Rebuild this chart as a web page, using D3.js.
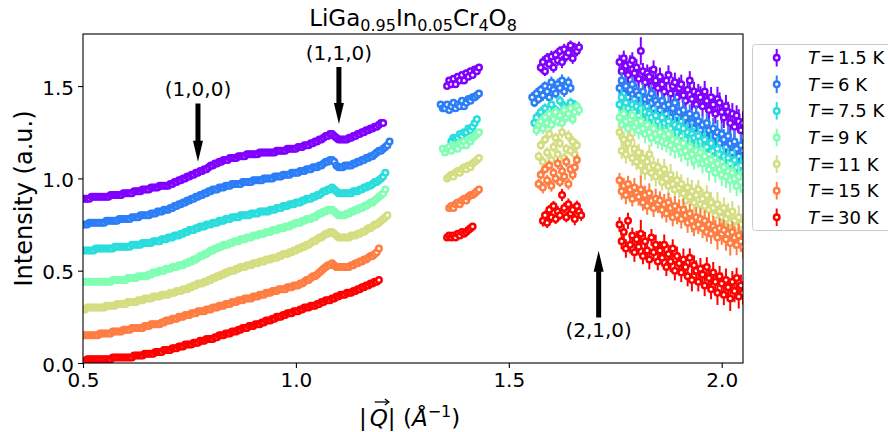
<!DOCTYPE html>
<html><head><meta charset="utf-8">
<script src="https://cdn.jsdelivr.net/npm/d3@7"></script>
<style>body{margin:0;background:#fff}svg text{font-family:"DejaVu Sans",sans-serif;fill:#000}</style>
</head><body><svg id="c" width="888" height="432"></svg>
<script>
// ---------- DATA ----------
const temps = ["1.5","6","7.5","9","11","15","30"];
const colors = ["#8000ff","#2c7ef7","#2adddd","#80ffb4","#d4dd80","#ff7d41","#ff0000"];
const xTicks = [0.5,1.0,1.5,2.0];
const yTicks = [0.0,0.5,1.0,1.5];

// region 1 (low Q)
const qLow = [0.500,0.505,0.510,0.515,0.520,0.525,0.530,0.535,0.540,0.545,
0.550,0.555,0.560,0.565,0.570,0.575,0.580,0.585,0.590,0.595,
0.600,0.605,0.610,0.615,0.620,0.625,0.630,0.635,0.640,0.645,
0.650,0.655,0.660,0.665,0.670,0.675,0.680,0.685,0.690,0.695,
0.700,0.705,0.710,0.715,0.720,0.725,0.730,0.735,0.740,0.745,
0.750,0.755,0.760,0.765,0.770,0.775,0.780,0.785,0.790,0.795,
0.800,0.805,0.810,0.815,0.820,0.825,0.830,0.835,0.840,0.845,
0.850,0.855,0.860,0.865,0.870,0.875,0.880,0.885,0.890,0.895,
0.900,0.905,0.910,0.915,0.920,0.925,0.930,0.935,0.940,0.945,
0.950,0.955,0.960,0.965,0.970,0.975,0.980,0.985,0.990,0.995,
1.000,1.005,1.010,1.015,1.020,1.025,1.030,1.035,1.040,1.045,
1.050,1.055,1.060,1.065,1.070,1.075,1.080,1.085,1.090,1.095,
1.100,1.105,1.110,1.115,1.120,1.125,1.130,1.135,1.140,1.145,
1.150,1.155,1.160,1.165,1.170,1.175,1.180,1.185,1.190,1.195,
1.200,1.205,1.210,1.215,1.220];
const low_T1p5 = [0.89,0.89,0.89,0.89,0.90,0.90,0.90,0.90,0.90,0.90,0.90,
0.90,0.90,0.91,0.91,0.91,0.91,0.91,0.91,0.92,0.92,
0.92,0.92,0.92,0.93,0.93,0.93,0.93,0.94,0.94,0.94,
0.94,0.95,0.95,0.95,0.95,0.96,0.96,0.96,0.96,0.96,
0.97,0.97,0.98,0.98,0.99,0.99,1.00,1.00,1.01,1.01,
1.02,1.02,1.03,1.03,1.04,1.04,1.05,1.05,1.06,1.07,
1.07,1.08,1.08,1.09,1.09,1.10,1.10,1.10,1.11,1.11,
1.11,1.11,1.12,1.12,1.12,1.12,1.13,1.13,1.13,1.13,
1.13,1.13,1.14,1.14,1.14,1.14,1.14,1.14,1.14,1.14,
1.15,1.15,1.15,1.15,1.15,1.16,1.16,1.16,1.16,1.16,
1.17,1.17,1.17,1.18,1.18,1.18,1.19,1.19,1.20,1.20,
1.21,1.21,1.22,1.23,1.23,1.24,1.24,1.23,1.22,1.21,
1.21,1.21,1.21,1.21,1.22,1.22,1.23,1.23,
1.24,1.24,1.25,1.25,1.26,1.26,1.27,1.27,1.28,1.28,1.29,1.30,1.30];
const low_T6 = [0.75,0.75,0.75,0.76,0.76,0.76,0.76,0.76,0.76,0.76,0.76,
0.77,0.77,0.77,0.77,0.77,0.77,0.78,0.78,0.78,0.78,
0.78,0.78,0.79,0.79,0.79,0.79,0.80,0.80,0.80,0.80,
0.80,0.81,0.81,0.81,0.82,0.82,0.82,0.83,0.83,0.83,
0.84,0.84,0.85,0.85,0.86,0.86,0.87,0.87,0.88,0.88,
0.89,0.89,0.90,0.90,0.91,0.91,0.92,0.92,0.93,0.93,
0.94,0.94,0.94,0.95,0.95,0.95,0.96,0.96,0.96,0.97,
0.97,0.97,0.97,0.97,0.98,0.98,0.98,0.98,0.98,0.99,
0.99,0.99,0.99,0.99,1.00,1.00,1.00,1.00,1.00,1.01,
1.01,1.01,1.01,1.02,1.02,1.02,1.02,1.03,1.03,1.03,
1.03,1.04,1.04,1.04,1.05,1.05,1.05,1.06,1.06,1.06,
1.07,1.07,1.08,1.09,1.09,1.10,1.10,1.09,1.07,1.06,
1.06,1.06,1.07,1.07,1.07,1.07,1.08,1.08,
1.09,1.09,1.10,1.10,1.11,1.11,1.12,1.12,1.13,1.14,1.15,1.15,1.16,1.17,1.18,1.20];
const low_T7p5 = [0.61,0.61,0.61,0.61,0.61,0.61,0.62,0.62,0.62,0.62,0.62,
0.62,0.62,0.62,0.62,0.63,0.63,0.63,0.63,0.63,0.63,
0.63,0.63,0.64,0.64,0.64,0.64,0.64,0.65,0.65,0.65,
0.65,0.65,0.66,0.66,0.66,0.66,0.67,0.67,0.67,0.68,
0.68,0.68,0.69,0.69,0.69,0.70,0.70,0.71,0.71,0.72,
0.72,0.72,0.73,0.73,0.74,0.74,0.74,0.75,0.75,0.75,
0.76,0.76,0.76,0.77,0.77,0.77,0.78,0.78,0.78,0.79,
0.79,0.79,0.79,0.80,0.80,0.80,0.80,0.80,0.81,0.81,
0.81,0.81,0.82,0.82,0.82,0.82,0.82,0.83,0.83,0.83,
0.84,0.84,0.84,0.85,0.85,0.85,0.86,0.86,0.86,0.87,
0.87,0.87,0.88,0.88,0.89,0.89,0.89,0.90,0.90,0.91,
0.91,0.92,0.93,0.93,0.94,0.94,0.95,0.94,0.93,0.92,
0.92,0.92,0.92,0.92,0.92,0.92,0.93,0.93,
0.93,0.94,0.94,0.95,0.95,0.96,0.96,0.97,0.98,0.98,0.99,1.00,1.01,1.03];
const low_T9 = [0.44,0.44,0.44,0.44,0.44,0.44,0.44,0.44,0.44,0.44,0.44,
0.44,0.44,0.44,0.45,0.45,0.45,0.45,0.45,0.45,0.45,
0.46,0.46,0.46,0.46,0.46,0.47,0.47,0.47,0.47,0.47,
0.48,0.48,0.49,0.49,0.49,0.50,0.50,0.50,0.51,0.51,
0.51,0.52,0.52,0.52,0.53,0.53,0.53,0.54,0.54,0.55,
0.55,0.56,0.56,0.57,0.58,0.58,0.59,0.59,0.60,0.61,
0.61,0.62,0.62,0.63,0.63,0.64,0.64,0.64,0.65,0.65,
0.66,0.66,0.66,0.67,0.67,0.67,0.68,0.68,0.68,0.69,
0.69,0.69,0.70,0.70,0.70,0.71,0.71,0.71,0.72,0.72,
0.72,0.73,0.73,0.73,0.74,0.74,0.74,0.75,0.75,0.76,
0.76,0.76,0.77,0.77,0.78,0.78,0.78,0.79,0.79,0.80,
0.81,0.81,0.82,0.82,0.83,0.83,0.83,0.82,0.81,0.80,
0.80,0.80,0.80,0.81,0.81,0.82,0.82,0.83,
0.83,0.84,0.84,0.85,0.85,0.86,0.87,0.87,0.88,0.89,0.90,0.91,0.92,0.94];
const low_T11 = [0.29,0.29,0.30,0.30,0.30,0.30,0.30,0.30,0.30,0.30,0.30,
0.31,0.31,0.31,0.31,0.31,0.32,0.32,0.32,0.32,0.32,
0.33,0.33,0.33,0.33,0.33,0.34,0.34,0.34,0.35,0.35,
0.35,0.35,0.36,0.36,0.36,0.36,0.37,0.37,0.37,0.37,
0.38,0.38,0.38,0.39,0.39,0.39,0.40,0.40,0.40,0.41,
0.41,0.42,0.42,0.43,0.43,0.43,0.44,0.44,0.45,0.45,
0.46,0.46,0.47,0.47,0.48,0.48,0.49,0.49,0.50,0.50,
0.50,0.51,0.51,0.52,0.52,0.52,0.53,0.53,0.53,0.54,
0.54,0.54,0.55,0.55,0.55,0.56,0.56,0.56,0.57,0.57,
0.57,0.58,0.58,0.59,0.59,0.59,0.60,0.60,0.61,0.61,
0.62,0.62,0.63,0.63,0.64,0.64,0.65,0.66,0.66,0.67,
0.68,0.68,0.69,0.70,0.70,0.71,0.71,0.70,0.69,0.68,
0.68,0.68,0.68,0.68,0.68,0.69,0.69,0.69,
0.70,0.70,0.71,0.71,0.72,0.73,0.73,0.74,0.75,0.75,0.76,0.77,0.78,0.79,0.80];
const low_T15 = [0.15,0.15,0.15,0.15,0.15,0.15,0.15,0.15,0.16,0.16,0.16,
0.16,0.16,0.16,0.17,0.17,0.17,0.17,0.17,0.18,0.18,
0.18,0.18,0.19,0.19,0.19,0.19,0.19,0.19,0.20,0.20,
0.20,0.21,0.21,0.21,0.21,0.21,0.22,0.22,0.23,0.23,
0.23,0.24,0.24,0.24,0.25,0.25,0.25,0.26,0.26,0.26,
0.27,0.27,0.27,0.28,0.28,0.28,0.28,0.29,0.29,0.29,
0.30,0.30,0.30,0.31,0.31,0.31,0.32,0.32,0.32,0.33,
0.33,0.33,0.34,0.34,0.34,0.35,0.35,0.35,0.35,0.36,
0.36,0.36,0.37,0.37,0.37,0.38,0.38,0.38,0.39,0.39,
0.39,0.40,0.40,0.40,0.40,0.41,0.41,0.41,0.42,0.42,
0.42,0.43,0.43,0.44,0.45,0.45,0.46,0.47,0.47,0.48,
0.49,0.50,0.51,0.52,0.53,0.53,0.54,0.53,0.52,0.52,
0.52,0.52,0.52,0.52,0.52,0.53,0.53,0.54,
0.54,0.55,0.55,0.56,0.56,0.57,0.58,0.58,0.59,0.60,0.62];
const low_T30 = [0.01,0.01,0.02,0.02,0.02,0.02,0.02,0.02,0.02,0.02,0.02,
0.02,0.02,0.02,0.03,0.03,0.03,0.03,0.03,0.03,0.03,
0.03,0.03,0.03,0.04,0.04,0.04,0.04,0.04,0.05,0.05,
0.05,0.05,0.05,0.06,0.06,0.06,0.06,0.07,0.07,0.07,
0.07,0.08,0.08,0.08,0.09,0.09,0.09,0.10,0.10,0.10,
0.10,0.11,0.11,0.11,0.12,0.12,0.12,0.13,0.13,0.13,
0.13,0.14,0.14,0.15,0.15,0.15,0.16,0.16,0.16,0.17,
0.17,0.17,0.18,0.18,0.19,0.19,0.19,0.20,0.20,0.20,
0.21,0.21,0.21,0.22,0.22,0.23,0.23,0.23,0.24,0.24,
0.25,0.25,0.25,0.26,0.26,0.27,0.27,0.27,0.28,0.28,
0.28,0.29,0.29,0.30,0.30,0.30,0.31,0.31,0.31,0.32,
0.32,0.33,0.33,0.34,0.34,0.34,0.35,0.35,0.36,0.36,
0.37,0.37,0.37,0.38,0.38,0.38,0.39,0.39,0.40,0.40,
0.41,0.41,0.42,0.42,0.43,0.43,0.44,0.44,0.45];

// region 2
const qMid1 = [1.340,1.345,1.350,1.355,1.360,1.365,1.370,1.375,1.380,1.385,1.390,1.395,1.400,1.405,1.410,1.415,1.420,1.425,1.430];
const errMid1 = [0.010,0.012,0.011,0.010,0.012,0.011,0.013,0.012,0.011,0.012,0.013,0.012,0.014,0.013,0.012,0.014,0.013,0.015,0.014];
const mid1_T1p5 = [null,null,null,1.50,1.53,1.51,1.54,1.51,1.55,1.53,1.56,1.53,1.57,1.55,1.58,1.56,1.59,1.58,1.60];
const mid1_T6 = [1.40,1.38,1.38,1.40,1.37,1.39,1.41,1.38,1.40,1.39,1.42,1.39,1.41,1.43,1.42,1.44,1.44,1.45,1.46];
const mid1_T7p5 = [null,null,null,null,null,1.20,1.22,1.21,1.22,1.24,1.23,1.25,1.25,1.27,1.26,1.28,1.30,1.32,null];
const mid1_T9 = [null,1.16,1.14,1.16,1.17,1.15,1.18,1.17,1.16,1.19,1.18,1.20,1.18,1.21,1.20,1.22,1.23,1.24,1.25];
const mid1_T11 = [null,null,null,1.00,1.01,1.02,1.01,1.03,1.04,1.03,1.05,1.06,1.05,1.07,1.06,1.08,1.09,1.10,1.11];
const mid1_T15 = [null,null,null,null,0.84,0.85,0.84,0.86,0.87,0.86,0.88,0.89,0.88,0.90,0.91,0.91,0.92,0.93,0.94];
const mid1_T30 = [null,null,null,0.68,0.69,0.68,0.69,0.68,0.70,0.69,0.71,0.70,0.71,0.72,0.73,0.74,null,null,null];

// region 3
const qMid2 = [1.550,1.555,1.560,1.565,1.570,1.575,1.580,1.585,1.590,1.595,1.600,1.605,1.610,1.615,1.620,1.625,1.630,1.635,1.640,1.645,1.650,1.655,1.660,1.665,1.670];
const errMid2 = [0.025,0.028,0.024,0.030,0.026,0.027,0.031,0.025,0.029,0.026,0.032,0.028,0.027,0.030,0.026,0.033,0.029,0.028,0.031,0.027,0.030,0.034,0.029,0.031,0.030];
const mid2_T1p5 = [null,null,null,null,null,1.60,1.63,1.58,1.65,1.62,1.66,1.60,1.67,1.64,1.69,1.63,1.70,1.66,1.68,1.72,1.65,1.70,1.69,1.71,null];
const mid2_T6 = [null,1.44,1.41,1.46,1.43,1.48,1.45,1.50,1.47,1.44,1.52,1.48,1.46,1.51,1.49,1.53,1.47,1.50,1.52,1.49,null,null,null,null,null];
const mid2_T7p5 = [null,null,1.30,1.33,1.29,1.36,1.32,1.38,1.34,1.31,1.40,1.35,1.37,1.33,1.42,1.36,1.39,1.34,1.38,1.41,1.36,1.39,null,null,null];
const mid2_T9 = [null,null,null,1.26,1.29,1.31,1.27,1.33,1.30,1.35,1.29,1.32,1.36,1.31,1.34,1.30,1.37,1.33,1.35,1.38,1.32,1.36,1.39,1.37,null];
const mid2_T11 = [null,null,null,null,1.12,1.18,1.09,1.21,1.14,1.24,1.10,1.17,1.22,1.13,1.19,1.25,1.11,1.16,1.23,1.15,1.20,1.13,1.18,null,null];
const mid2_T15 = [null,null,null,null,0.97,1.02,0.95,1.05,0.99,1.07,0.96,1.03,1.00,1.08,0.98,1.04,1.01,1.09,0.97,1.05,1.02,1.06,1.10,null,null];
const mid2_T30 = [null,null,null,null,null,null,0.77,0.80,0.76,0.83,0.79,0.85,0.78,0.82,0.80,0.91,0.84,0.79,0.86,0.81,0.83,0.78,0.85,0.82,0.80];

// region 4 (high Q)
const qHigh = [1.760,1.765,1.770,1.775,1.780,1.785,1.790,1.795,1.800,
1.805,1.810,1.815,1.820,1.825,1.830,1.835,1.840,1.845,1.850,
1.855,1.860,1.865,1.870,1.875,1.880,1.885,1.890,1.895,1.900,
1.905,1.910,1.915,1.920,1.925,1.930,1.935,1.940,1.945,1.950,
1.955,1.960,1.965,1.970,1.975,1.980,1.985,1.990,1.995,2.000,
2.005,2.010,2.015,2.020,2.025,2.030,2.035,2.040,2.045,2.050];
const errHigh = [0.040,0.045,0.042,0.050,0.044,0.047,0.043,0.052,0.046,
0.048,0.075,0.045,0.050,0.047,0.053,0.046,0.049,0.055,0.048,
0.050,0.047,0.056,0.049,0.052,0.058,0.050,0.053,0.049,0.057,
0.052,0.060,0.050,0.055,0.051,0.062,0.053,0.056,0.052,0.059,
0.054,0.058,0.053,0.064,0.055,0.057,0.054,0.066,0.056,0.060,
0.057,0.062,0.055,0.068,0.058,0.061,0.056,0.065,0.059,0.063];
const high_T1p5 = [1.63,1.58,1.65,1.61,1.56,1.62,1.64,1.57,1.60,
1.54,1.69,1.58,1.52,1.57,1.55,1.50,1.59,1.53,1.49,
1.55,1.51,1.47,1.53,1.56,1.46,1.50,1.52,1.44,1.49,
1.51,1.45,1.42,1.48,1.53,1.43,1.47,1.40,1.46,1.44,
1.39,1.47,1.42,1.37,1.44,1.40,1.35,1.43,1.41,1.36,
1.33,1.39,1.36,1.30,1.35,1.28,1.34,1.31,1.26,1.30];
const high_T6 = [1.49,1.53,1.46,1.50,1.44,1.48,1.51,1.43,1.47,
1.45,1.41,1.47,1.43,1.39,1.44,1.46,1.38,1.42,1.40,
1.37,1.42,1.39,1.35,1.40,1.33,1.38,1.41,1.34,1.36,
1.31,1.37,1.33,1.29,1.35,1.30,1.27,1.34,1.31,1.26,
1.29,1.24,1.30,1.26,1.21,1.27,1.23,1.25,1.19,1.24,
1.21,1.17,1.23,1.19,1.14,1.20,1.16,1.12,1.18,1.15];
const high_T7p5 = [1.40,1.44,1.37,1.41,1.38,1.35,1.40,1.36,1.39,
1.34,1.38,1.32,1.36,1.30,1.35,1.33,1.29,1.34,1.31,
1.28,1.33,1.30,1.26,1.31,1.27,1.24,1.29,1.25,1.28,
1.23,1.27,1.21,1.25,1.19,1.24,1.22,1.18,1.23,1.20,
1.16,1.21,1.17,1.13,1.19,1.15,1.11,1.16,1.13,1.09,
1.12,1.07,1.11,1.08,1.04,1.10,1.06,1.02,1.07,1.04];
const high_T9 = [1.33,1.29,1.35,1.31,1.27,1.32,1.34,1.28,1.30,
1.26,1.31,1.27,1.24,1.29,1.25,1.22,1.27,1.24,1.21,
1.25,1.20,1.23,1.19,1.24,1.18,1.21,1.16,1.20,1.17,
1.14,1.19,1.15,1.12,1.17,1.13,1.10,1.15,1.11,1.14,
1.08,1.12,1.09,1.05,1.10,1.07,1.03,1.08,1.05,1.02,
1.06,1.01,1.04,0.99,1.03,1.00,0.96,1.01,0.98,0.95];
const high_T11 = [1.25,1.15,1.21,1.13,1.19,1.22,1.11,1.16,1.09,
1.14,1.07,1.11,1.04,1.09,1.13,1.03,1.07,1.01,1.06,
1.03,0.98,1.05,1.00,0.96,1.02,0.97,0.94,0.99,0.95,
0.97,0.92,0.88,0.95,0.90,0.93,0.87,0.91,0.94,0.86,
0.89,0.85,0.91,0.83,0.87,0.84,0.80,0.86,0.82,0.79,
0.84,0.78,0.81,0.76,0.82,0.77,0.74,0.79,0.75,0.72];
const high_T15 = [0.99,0.93,0.96,0.91,0.97,0.94,0.89,0.95,0.92,
0.90,0.94,0.87,0.91,0.85,0.92,0.88,0.84,0.89,0.86,
0.88,0.83,0.86,0.81,0.87,0.84,0.79,0.85,0.80,0.83,
0.78,0.83,0.80,0.76,0.81,0.77,0.74,0.79,0.75,0.78,
0.73,0.77,0.71,0.75,0.70,0.74,0.72,0.68,0.73,0.70,
0.72,0.67,0.70,0.65,0.71,0.68,0.64,0.69,0.66,0.63];
const high_T30 = [0.75,0.66,0.71,0.62,0.77,0.64,0.69,0.60,0.67,
0.63,0.70,0.58,0.66,0.61,0.56,0.68,0.60,0.64,0.55,
0.61,0.57,0.64,0.52,0.59,0.55,0.62,0.50,0.58,0.54,
0.49,0.56,0.52,0.47,0.57,0.45,0.53,0.50,0.44,0.51,
0.48,0.42,0.52,0.46,0.40,0.49,0.44,0.38,0.47,0.43,
0.37,0.45,0.41,0.35,0.44,0.39,0.46,0.36,0.42,0.38];

// annotations
const annLabels = ["(1,0,0)","(1,1,0)","(2,1,0)"];
const annQ = [0.77,1.101,1.711];
const annTail = [1.406,1.603,0.247];
const annTip = [1.090,1.294,0.608];
const annText = [1.446,1.641,0.140];

// ---------- BUILD ----------
const regions = [
  {q:qLow,  err:null,    vals:[low_T1p5,low_T6,low_T7p5,low_T9,low_T11,low_T15,low_T30]},
  {q:qMid1, err:errMid1, vals:[mid1_T1p5,mid1_T6,mid1_T7p5,mid1_T9,mid1_T11,mid1_T15,mid1_T30]},
  {q:qMid2, err:errMid2, vals:[mid2_T1p5,mid2_T6,mid2_T7p5,mid2_T9,mid2_T11,mid2_T15,mid2_T30]},
  {q:qHigh, err:errHigh, vals:[high_T1p5,high_T6,high_T7p5,high_T9,high_T11,high_T15,high_T30]}
];
const series = temps.map((t,k)=>{
  const pts=[];
  regions.forEach(r=>{
    r.vals[k].forEach((v,i)=>{ if(v!=null) pts.push({q:r.q[i],v:v,e:r.err?r.err[i]:0}); });
  });
  return {t, color:colors[k], pts};
});

const L=83,R=743,T=34,B=363;
const x = d3.scaleLinear().domain([0.5,2.05]).range([L,R]);
const y = d3.scaleLinear().domain([0,1.782]).range([B,T]);
const svg = d3.select("#c");

svg.append("defs").append("clipPath").attr("id","clip")
  .append("rect").attr("x",L).attr("y",T).attr("width",R-L).attr("height",B-T);

const MR=2.75, MSW=2.5;
const gData = svg.append("g").attr("clip-path","url(#clip)");
series.forEach(s=>{
  const g = gData.append("g");
  g.selectAll("line").data(s.pts.filter(p=>p.e>0)).join("line")
    .attr("x1",p=>x(p.q)).attr("x2",p=>x(p.q))
    .attr("y1",p=>y(p.v-p.e)).attr("y2",p=>y(p.v+p.e))
    .attr("stroke",s.color).attr("stroke-width",2);
  g.selectAll("circle").data(s.pts).join("circle")
    .attr("cx",p=>x(p.q)).attr("cy",p=>y(p.v)).attr("r",MR)
    .attr("fill","#fff").attr("stroke",s.color).attr("stroke-width",MSW);
});

// axes
const ax = svg.append("g").attr("transform",`translate(0,${B})`)
  .call(d3.axisBottom(x).tickValues(xTicks).tickFormat(d3.format(".1f")).tickSize(5).tickPadding(5).tickSizeOuter(0));
const ay = svg.append("g").attr("transform",`translate(${L},0)`)
  .call(d3.axisLeft(y).tickValues(yTicks).tickFormat(d3.format(".1f")).tickSize(5).tickPadding(4).tickSizeOuter(0));
[ax,ay].forEach(a=>{
  a.select(".domain").remove();
  a.selectAll("line").attr("stroke","#000").attr("stroke-width",1.1);
  a.selectAll("text").style("font-size","20px").attr("font-family","DejaVu Sans");
});
ay.selectAll("text").attr("dy","0.40em");
svg.append("rect").attr("x",L).attr("y",T).attr("width",R-L).attr("height",B-T)
  .attr("fill","none").attr("stroke","#000").attr("stroke-width",1.1);

// annotations
annLabels.forEach((lab,i)=>{
  const cx=x(annQ[i]), y0=y(annTail[i]), y1=y(annTip[i]);
  const d = Math.sign(y1-y0), hl=21, sw=2.5, hw=5;
  const yh = y1 - d*hl;
  svg.append("path").attr("d",
    `M${cx-sw},${y0}L${cx+sw},${y0}L${cx+sw},${yh}L${cx+hw},${yh}L${cx},${y1}L${cx-hw},${yh}L${cx-sw},${yh}Z`)
    .attr("fill","#000");
  svg.append("text").attr("x",cx).attr("y",y(annText[i])).attr("text-anchor","middle")
    .style("font-size","20px").text(lab);
});

// title
const ti = svg.append("text").attr("x",(L+R)/2).attr("y",26).attr("text-anchor","middle").style("font-size","23px");
const tparts = [["LiGa",0],["0.95",1],["In",0],["0.05",1],["Cr",0],["4",1],["O",0],["8",1]];
let prevSub=0;
tparts.forEach(([s,sub])=>{
  const ts = ti.append("tspan").text(s);
  if(sub) ts.style("font-size","16px");
  const dy = (sub?4.5:0)-(prevSub?4.5:0);
  if(dy) ts.attr("dy",dy);
  prevSub=sub;
});

// y label
svg.append("text").attr("transform","translate(31.5,198.5) rotate(-90)").attr("text-anchor","middle")
  .style("font-size","24px").text("Intensity (a.u.)");

// x label
const xl = svg.append("text").attr("x",359).attr("y",426).style("font-size","23px");
xl.append("tspan").text("|");
xl.append("tspan").attr("dx",3).style("font-style","italic").text("Q");
xl.append("tspan").text("| (");
xl.append("tspan").style("font-style","italic").text("Å");
xl.append("tspan").attr("dy",-9).style("font-size","16px").text("\u22121");
xl.append("tspan").attr("dy",9).text(")");
const qs = xl.node().getStartPositionOfChar(1), qe = xl.node().getEndPositionOfChar(1);
const ax0 = qs.x+5, ax1 = qe.x+1, ayy = 402;
svg.append("line").attr("x1",ax0).attr("x2",ax1-1).attr("y1",ayy).attr("y2",ayy).attr("stroke","#000").attr("stroke-width",1.3);
svg.append("path").attr("d",`M${ax1-4},${ayy-3}L${ax1},${ayy}L${ax1-4},${ayy+3}`).attr("fill","none").attr("stroke","#000").attr("stroke-width",1.3);

// legend
const lg = svg.append("g");
lg.append("rect").attr("x",752.5).attr("y",44.5).attr("width",150).attr("height",186).attr("rx",3)
  .attr("fill","#fff").attr("fill-opacity",0.8).attr("stroke","#cccccc").attr("stroke-width",1);
series.forEach((s,k)=>{
  const cy = 57.7 + k*26.6;
  lg.append("line").attr("x1",776.7).attr("x2",776.7).attr("y1",cy-8.8).attr("y2",cy+8.8)
    .attr("stroke",s.color).attr("stroke-width",2);
  lg.append("circle").attr("cx",776.7).attr("cy",cy).attr("r",MR).attr("fill","#fff")
    .attr("stroke",s.color).attr("stroke-width",MSW);
  const tx = lg.append("text").attr("x",808).attr("y",cy+6.5).style("font-size","18px");
  tx.append("tspan").style("font-style","italic").text("T");
  tx.append("tspan").attr("dx",1).text("=");
  tx.append("tspan").attr("dx",3).text(s.t+" K");
});
</script></body></html>
